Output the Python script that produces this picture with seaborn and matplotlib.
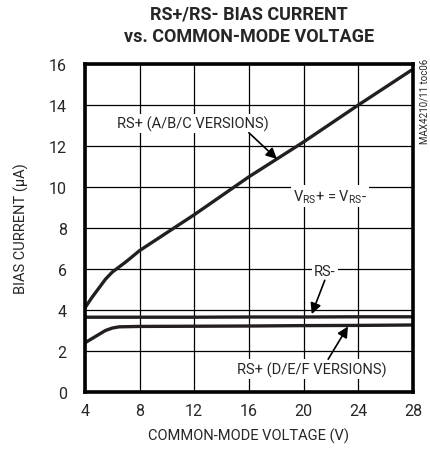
import matplotlib
matplotlib.use("Agg")
import matplotlib.pyplot as plt
import seaborn as sns
import pandas as pd

# Data
abc_x = [4, 4.5, 5, 5.5, 6, 7, 8, 12, 16, 20, 24, 28]
abc_y = [4.1, 4.6, 5.05, 5.5, 5.85, 6.35, 6.9, 8.65, 10.5, 12.2, 14.0, 15.75]
rsm_x = [4, 8, 12, 16, 20, 24, 28]
rsm_y = [3.65, 3.65, 3.65, 3.66, 3.66, 3.67, 3.67]
def_x = [4, 4.5, 5, 5.5, 6, 6.5, 8, 12, 16, 20, 24, 28]
def_y = [2.4, 2.6, 2.8, 3.0, 3.12, 3.18, 3.2, 3.21, 3.22, 3.24, 3.25, 3.27]
x_ticks = [4, 8, 12, 16, 20, 24, 28]
y_ticks = [0, 2, 4, 6, 8, 10, 12, 14, 16]

sns.set_theme(style="white")
FAM = ['Roboto', 'DejaVu Sans']
plt.rcParams['font.family'] = FAM

df = pd.concat([
    pd.DataFrame({'x': abc_x, 'y': abc_y, 's': 'abc'}),
    pd.DataFrame({'x': rsm_x, 'y': rsm_y, 's': 'rsm'}),
    pd.DataFrame({'x': def_x, 'y': def_y, 's': 'def'}),
])

fig = plt.figure(figsize=(4.31, 4.52), dpi=100)
ax = fig.add_axes([0.197, 0.1305, 0.761, 0.7255])
sns.lineplot(data=df, x='x', y='y', units='s', estimator=None, color='#231f20',
             lw=2.4, ax=ax, legend=False, sort=False)

ax.set_xlim(4, 28)
ax.set_ylim(0, 16)
ax.set_xticks(x_ticks)
ax.set_yticks(y_ticks)
ax.set_xticklabels([str(v) for v in x_ticks], fontsize=11.5)
ax.set_yticklabels([str(v) for v in y_ticks], fontsize=11.5)
ax.tick_params(axis='y', length=0, pad=13)
ax.tick_params(axis='x', length=0, pad=8)
ax.grid(True, color='black', lw=0.9)
ax.set_axisbelow(True)
for sp in ax.spines.values():
    sp.set_linewidth(2.6)
    sp.set_color('black')
    sp.set_zorder(5)

ax.set_xlabel('COMMON-MODE VOLTAGE (V)', fontsize=10.5, labelpad=7)
ax.set_ylabel('BIAS CURRENT (μA)', fontsize=10.5, labelpad=14)

fig.text(0.578, 0.988, 'RS+/RS- BIAS CURRENT', ha='center', va='top',
         fontsize=13, fontweight='bold')
fig.text(0.578, 0.938, 'vs. COMMON-MODE VOLTAGE', ha='center', va='top',
         fontsize=13, fontweight='bold')
fig.text(0.984, 0.87, 'MAX4210/11 toc06', rotation=90, ha='center', va='top',
         fontsize=7)

bbox = dict(fc='white', ec='none', pad=1.5)
arr = dict(arrowstyle='-|>', color='black', lw=1.2, mutation_scale=16,
           shrinkA=0, shrinkB=0)
fs = 10.5
ax.text(11.9, 13.1, 'RS+ (A/B/C VERSIONS)', ha='center', va='center',
        fontsize=fs, bbox=bbox, zorder=4)
ax.annotate('', xy=(18.05, 11.37), xytext=(16.0, 12.65), arrowprops=arr, zorder=4)
ax.text(21.9, 9.55, r'V$_{\mathregular{RS}}$+ = V$_{\mathregular{RS}}$-', ha='center',
        va='center', fontsize=fs, bbox=bbox, zorder=4)
ax.text(21.55, 5.9, 'RS-', ha='center', va='center', fontsize=fs, bbox=bbox, zorder=4)
ax.annotate('', xy=(20.6, 3.8), xytext=(21.55, 5.45), arrowprops=arr, zorder=4)
ax.text(20.6, 1.12, 'RS+ (D/E/F VERSIONS)', ha='center', va='center',
        fontsize=fs, bbox=bbox, zorder=4)
ax.annotate('', xy=(23.25, 3.2), xytext=(21.8, 1.6), arrowprops=arr, zorder=4)

fig.savefig('out.png', dpi=100)
